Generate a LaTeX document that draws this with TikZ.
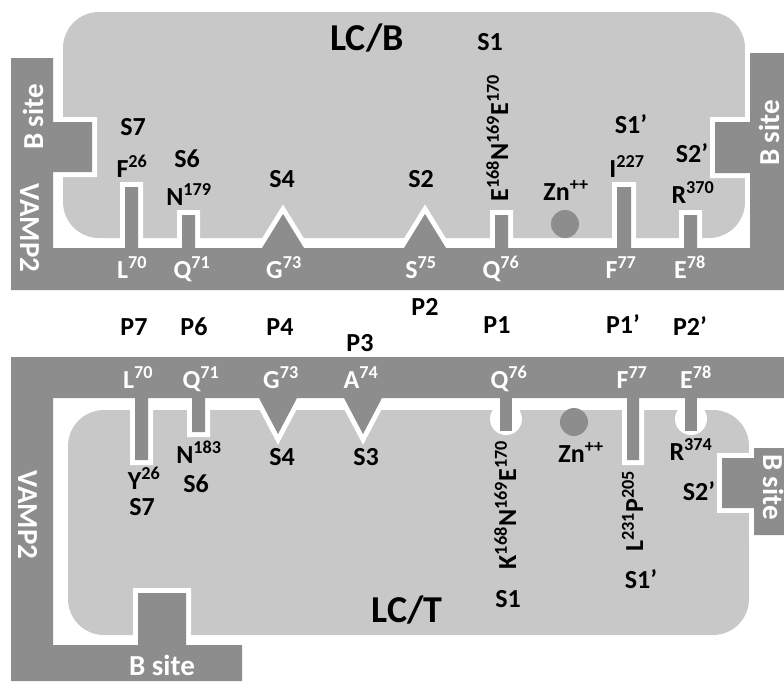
\documentclass[tikz,border=0pt]{standalone}
\usepackage{fontspec}
\setmainfont{Carlito}
\usepackage{tikz}

\definecolor{lcgray}{RGB}{200,200,200}
\definecolor{vampgray}{RGB}{141,141,141}
\newcommand\lblfont{\fontsize{26}{30}\selectfont\bfseries}
\newcommand\sitefont{\fontsize{29}{33}\selectfont\bfseries}
\newcommand\lcfont{\fontsize{38}{44}\selectfont\bfseries}

\begin{document}
\begin{tikzpicture}[x=1pt, y=-1pt,
    lbl/.style={font=\lblfont, inner sep=0pt, anchor=base},
    wlbl/.style={lbl, text=white},
    site/.style={font=\sitefont, text=white, inner sep=0pt, anchor=base},
    vamp/.style={fill=vampgray, preaction={draw=white, line width=10pt}},
    zn/.style={circle, fill=vampgray, minimum size=28pt, inner sep=0pt}]
\useasboundingbox (0,0) rectangle (784,681);

% LC/B with VAMP2
\fill[lcgray, rounded corners=36pt] (63,12) rectangle (745,238);
\fill[vamp] (11,58) -- (53,58) -- (53,122) -- (92,122) -- (92,172) -- (53,172)
  -- (53,248) -- (125,248) -- (125,187) -- (138,187) -- (138,248)
  -- (182,248) -- (182,215) -- (195,215) -- (195,248)
  -- (262,248) -- (283,214) -- (304,248)
  -- (404,248) -- (425,214) -- (446,248)
  -- (495,248) -- (495,215) -- (508,215) -- (508,248)
  -- (617,248) -- (617,187) -- (631,187) -- (631,248)
  -- (684,248) -- (684,215) -- (697,215) -- (697,248)
  -- (750,248) -- (750,173) -- (715,173) -- (715,122) -- (750,122)
  -- (750,53) -- (784,53) -- (784,290) -- (11,290) -- cycle;
\node (znb) [zn] at (565,224) {};

\node (lcb) [lbl, font=\lcfont] at (367,50) {LC/B};
\node (s1b) [lbl] at (490,50) {S1};
\node (s7b) [lbl] at (133,135) {S7};
\node (f26) [lbl] at (132,177) {F\textsuperscript{26}};
\node (s6b) [lbl] at (187,167) {S6};
\node (n179) [lbl] at (189,205) {N\textsuperscript{179}};
\node (s4b) [lbl] at (282,187) {S4};
\node (s2b) [lbl] at (421,187) {S2};
\node (e168) [lbl, rotate=90] at (508,138) {E\textsuperscript{168}N\textsuperscript{169}E\textsuperscript{170}};
\node (znlb) [lbl] at (566,200) {Zn\textsuperscript{++}};
\node (s1pb) [lbl] at (631,133) {S1’};
\node (i227) [lbl] at (627,177) {I\textsuperscript{227}};
\node (s2pb) [lbl] at (692,162) {S2’};
\node (r370) [lbl] at (693,203) {R\textsuperscript{370}};

\node (l70b) [wlbl] at (132,278) {L\textsuperscript{70}};
\node (q71b) [wlbl] at (192,278) {Q\textsuperscript{71}};
\node (g73b) [wlbl] at (284,278) {G\textsuperscript{73}};
\node (s75b) [wlbl] at (421,278) {S\textsuperscript{75}};
\node (q76b) [wlbl] at (501,278) {Q\textsuperscript{76}};
\node (f77b) [wlbl] at (621,278) {F\textsuperscript{77}};
\node (e78b) [wlbl] at (690,278) {E\textsuperscript{78}};
\node (vampb) [site, rotate=-90] at (20,228) {VAMP2};
\node (bsitebl) [site, rotate=90] at (43,117) {B site};
\node (bsitebr) [site, rotate=90] at (779,133) {B site};

% P positions
\node (p7) [lbl] at (134,335) {P7};
\node (p6) [lbl] at (194,335) {P6};
\node (p4) [lbl] at (280,335) {P4};
\node (p3) [lbl] at (360,351) {P3};
\node (p2) [lbl] at (425,315) {P2};
\node (p1) [lbl] at (497,333) {P1};
\node (p1p) [lbl] at (623,333) {P1’};
\node (p2p) [lbl] at (690,335) {P2’};

% LC/T with VAMP2
\fill[lcgray, rounded corners=36pt] (68,410) rectangle (749,635);
\fill[vamp] (11,357) -- (784,357) -- (784,398)
  -- (639,398) -- (639,460) -- (627,460) -- (627,398)
  -- (382,398) -- (363,434) -- (344,398)
  -- (297,398) -- (278,434) -- (259,398)
  -- (205,398) -- (205,432) -- (192,432) -- (192,398)
  -- (148,398) -- (148,460) -- (135,460) -- (135,398)
  -- (53,398) -- (53,645) -- (138,645) -- (138,593) -- (186,593) -- (186,645)
  -- (242,645) -- (242,681) -- (11,681) -- cycle;
\fill[vamp] (754,448) -- (784,448) -- (784,535) -- (754,535) -- (754,508)
  -- (722,508) -- (722,458) -- (754,458) -- cycle;
\fill[white] (506,419) circle (16);
\fill[white] (691,419) circle (16);
\fill[vampgray] (500,398) rectangle (512,431);
\fill[vampgray] (685,398) rectangle (697,431);
\node (znt) [zn] at (574,422) {};

\node (l70t) [wlbl] at (138,388) {L\textsuperscript{70}};
\node (q71t) [wlbl] at (201,388) {Q\textsuperscript{71}};
\node (g73t) [wlbl] at (281,388) {G\textsuperscript{73}};
\node (a74t) [wlbl] at (361,388) {A\textsuperscript{74}};
\node (q76t) [wlbl] at (509,388) {Q\textsuperscript{76}};
\node (f77t) [wlbl] at (632,388) {F\textsuperscript{77}};
\node (e78t) [wlbl] at (696,388) {E\textsuperscript{78}};

\node (n183) [lbl] at (199,463) {N\textsuperscript{183}};
\node (y26) [lbl] at (144,489) {Y\textsuperscript{26}};
\node (s6t) [lbl] at (196,492) {S6};
\node (s7t) [lbl] at (142,515) {S7};
\node (s4t) [lbl] at (282,465) {S4};
\node (s3t) [lbl] at (366,465) {S3};
\node (k168) [lbl, rotate=90] at (516,505) {K\textsuperscript{168}N\textsuperscript{169}E\textsuperscript{170}};
\node (znlt) [lbl] at (581,462) {Zn\textsuperscript{++}};
\node (l231) [lbl, rotate=90] at (643,511) {L\textsuperscript{231}P\textsuperscript{205}};
\node (r374) [lbl] at (691,460) {R\textsuperscript{374}};
\node (s2pt) [lbl] at (699,500) {S2’};
\node (s1t) [lbl] at (508,607) {S1};
\node (s1pt) [lbl] at (641,588) {S1’};
\node (lct) [lbl, font=\lcfont] at (407,622) {LC/T};
\node (vampt) [site, rotate=-90] at (18,515) {VAMP2};
\node (bsitetl) [site] at (162,675) {B site};
\node (bsitetr) [site, rotate=-90] at (763,487) {B site};
\end{tikzpicture}
\end{document}
